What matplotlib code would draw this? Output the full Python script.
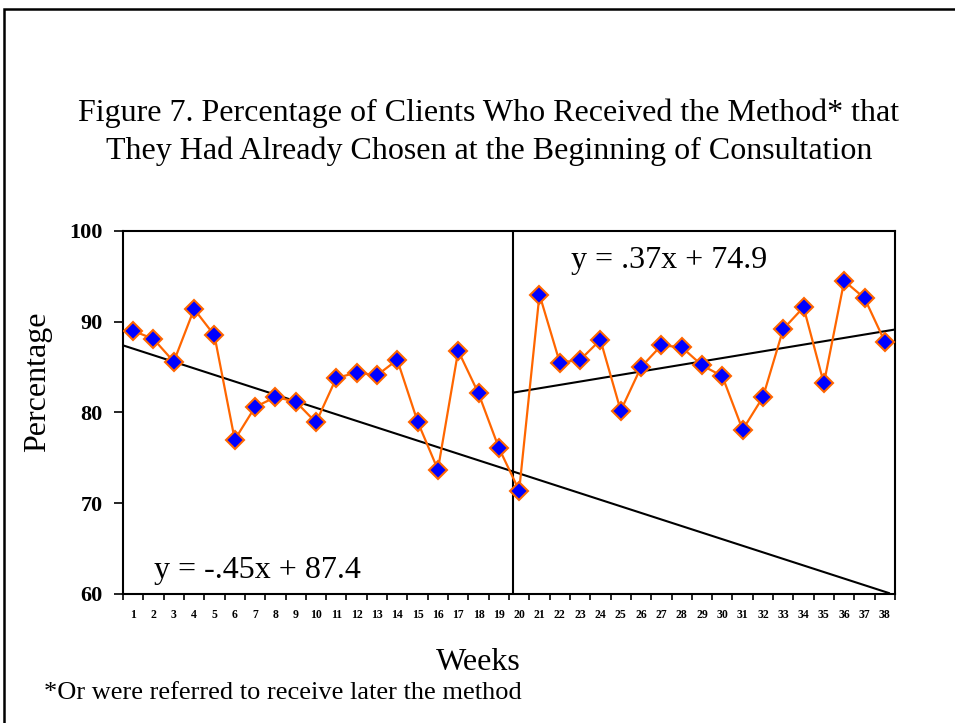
import matplotlib
matplotlib.use('Agg')
import matplotlib.pyplot as plt
import matplotlib.patches as patches
import numpy as np

plt.rcParams['font.family'] = 'Liberation Serif'

weeks = list(range(1, 39))
percent = [89.0, 88.1, 85.6, 91.4, 88.5, 77.0, 80.6, 81.7, 81.2, 78.9,
           83.8, 84.4, 84.1, 85.8, 79.0, 73.7, 86.8, 82.1, 76.1, 71.4,
           93.0, 85.5, 85.8, 88.0, 80.2, 85.0, 87.4, 87.2, 85.2, 84.0,
           78.1, 81.7, 89.2, 91.6, 83.2, 94.5, 92.6, 87.8]

# trend lines as they are drawn in the picture (slope, intercept, x range)
trend1 = (-0.724, 87.76, 0.5, 38.2)
trend2 = (0.37, 74.9, 19.7, 38.5)
split_week = 19.7

fig = plt.figure(figsize=(9.55, 7.23), dpi=100)
fig.patches.append(patches.Rectangle((4/955, -0.1), 1.2, 1 - 9/723 + 0.1,
                                     transform=fig.transFigure, fill=False,
                                     edgecolor='black', linewidth=1.8))

ax = fig.add_axes([123/955, 1-594/723, 772/955, 363/723])

for slope, icpt, x0, x1 in (trend1, trend2):
    xs = np.array([x0, x1])
    ax.plot(xs, slope*xs + icpt, color='black', linewidth=1.5, zorder=2)
ax.axvline(split_week, color='black', linewidth=1.5, zorder=2)

ax.plot(weeks, percent, color='#ff6600', linewidth=1.6, marker='D',
        markersize=9, markerfacecolor='#0000ff', markeredgecolor='#ff6600',
        markeredgewidth=1.5, zorder=3)

ax.set_xlim(0.5, 38.5)
ax.set_ylim(60, 100)
ax.set_yticks([60, 70, 80, 90, 100])
ax.set_xticks(weeks)
ax.set_xticks(np.arange(0.5, 39, 1), minor=True)
ax.tick_params(axis='x', which='major', length=0, pad=11, labelsize=8.5)
ax.tick_params(axis='x', which='minor', length=4, width=1.2, direction='out')
ax.tick_params(axis='y', length=6.5, width=1.2, direction='out', labelsize=16, pad=8)
for lab in ax.get_xticklabels() + ax.get_yticklabels():
    lab.set_fontweight('bold')
for sp in ax.spines.values():
    sp.set_linewidth(1.5)

ax.set_ylabel('Percentage', fontsize=23)
ax.yaxis.set_label_coords(-(123 - 52)/772, (594 - 382)/363)

ax.text(0.04, 0.025, 'y = -.45x + 87.4', transform=ax.transAxes, fontsize=23,
        va='bottom', ha='left')
ax.text(0.58, 0.92, 'y = .37x + 74.9', transform=ax.transAxes, fontsize=23,
        va='center', ha='left')

fig.text(489/955, 1-132/723, 'Figure 7. Percentage of Clients Who Received the Method* that\n'
         'They Had Already Chosen at the Beginning of Consultation',
         ha='center', va='center', fontsize=23, linespacing=1.4)
fig.text(478/955, 1-662/723, 'Weeks', ha='center', va='center', fontsize=23)
fig.text(44/955, 1-693/723, '*Or were referred to receive later the method',
         ha='left', va='center', fontsize=19)

fig.savefig('out.png', dpi=100)
